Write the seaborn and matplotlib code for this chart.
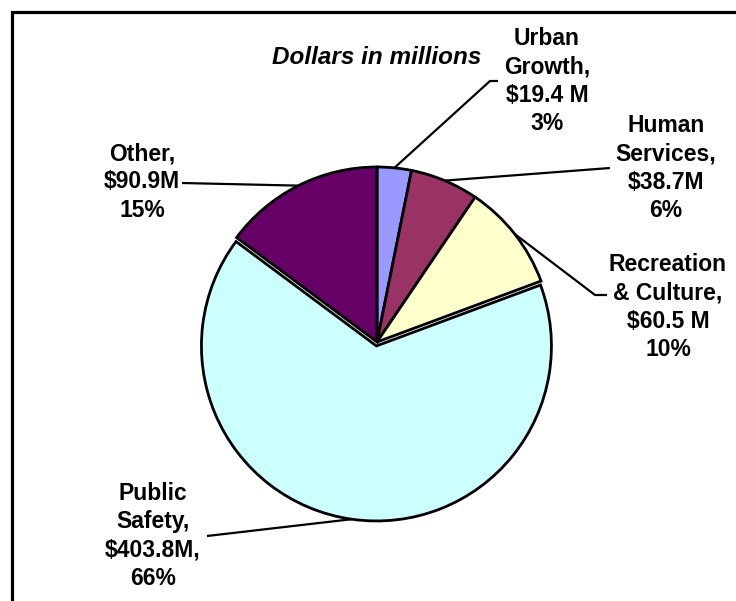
import numpy as np
import matplotlib
matplotlib.use("Agg")
import matplotlib.pyplot as plt
from matplotlib.lines import Line2D
import seaborn as sns

# Budget by service area (dollars in millions)
categories = ["Urban\nGrowth,", "Human\nServices,", "Recreation\n& Culture,", "Public\nSafety,", "Other,"]
amounts = [19.4, 38.7, 60.5, 403.8, 90.9]
amount_labels = ["$19.4 M", "$38.7M", "$60.5 M", "$403.8M,", "$90.9M"]
percent_labels = ["3%", "6%", "10%", "66%", "15%"]
colors = ["#9999FF", "#993366", "#FFFFCC", "#CCFFFF", "#660066"]
explode = [0, 0, 0, 4, 0]  # offset in pixels (axes use pixel units)

sns.set_theme(style="white")
plt.rcParams["font.family"] = ["Liberation Sans", "DejaVu Sans"]

W, H = 736, 601
fig = plt.figure(figsize=(W / 100, H / 100), dpi=100)
ax = fig.add_axes([0, 0, 1, 1])

cx, cy, r = 377, H - 342, 175
wedges, _ = ax.pie(amounts, colors=colors, startangle=90, counterclock=False,
                   center=(cx, cy), radius=r, explode=explode, frame=True,
                   wedgeprops=dict(edgecolor="black", linewidth=2.0))
ax.set_xlim(0, W)
ax.set_ylim(0, H)
ax.set_aspect("equal")
ax.axis("off")

# label block centres and leader-line paths (label side), in pixel coords from top-left
label_pos = [(547, 81), (666, 168), (668, 307), (153, 536), (142, 182)]
leader_tail = [
    [(490, 81), (498, 81)],
    [(610, 168)],
    [(595, 295), (607, 295)],
    [(207, 536)],
    [(182, 183)],
]

for w, cat, amt, pct, (lx, ly), tail in zip(wedges, categories, amount_labels,
                                            percent_labels, label_pos, leader_tail):
    ang = np.deg2rad((w.theta1 + w.theta2) / 2)
    wx, wy = w.center
    ax0 = wx + w.r * np.cos(ang)
    ay0 = wy + w.r * np.sin(ang)
    xs = [ax0] + [p[0] for p in tail]
    ys = [ay0] + [H - p[1] for p in tail]
    ax.plot(xs, ys, color="black", lw=1.6, solid_capstyle="butt", zorder=3)
    ax.text(lx, H - ly, f"{cat}\n{amt}\n{pct}", ha="center", va="center",
            multialignment="center", fontsize=16.5, fontweight="bold",
            linespacing=1.3, color="black")

ax.text(377, H - 57, "Dollars in millions", ha="center", va="center",
        fontsize=17.5, fontweight="bold", fontstyle="italic", color="black")

# frame along the top and left edges
fig.add_artist(Line2D([12 / W, 12 / W, 1.0], [0.0, 1 - 12 / H, 1 - 12 / H],
                      transform=fig.transFigure, color="black", lw=2.3,
                      solid_joinstyle="miter"))

fig.savefig("out.png", dpi=100)
